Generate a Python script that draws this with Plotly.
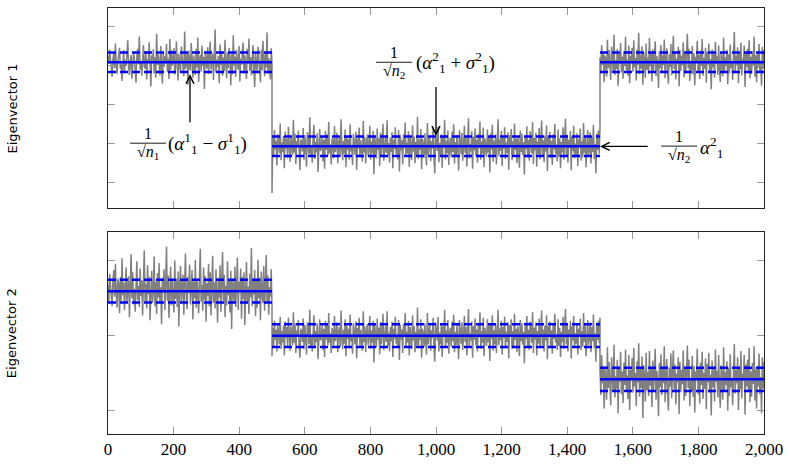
import plotly.graph_objects as go
from plotly.subplots import make_subplots

# ---------------- data ----------------
seg_edges = [0, 500, 1500, 2000]
x_ticks = [0, 200, 400, 600, 800, 1000, 1200, 1400, 1600, 1800, 2000]

# Eigenvector 1 : segment means / std bands (axis units)
ev1_mean = [3.08, 0.92, 3.08]
ev1_sigma = [0.25, 0.25, 0.25]
# Eigenvector 2
ev2_mean = [1.595, 1.0, 0.417]
ev2_sigma = [0.152, 0.152, 0.154]

# size of one unit of the deviation lists below, in axis units
ev1_dev_unit = 0.012
ev2_dev_unit = 0.0105

# noisy entries: deviations from the segment mean
ev1_dev_a = [
    14,-3,27,9,-18,-31,6,22,-12,40,-7,-25,3,18,31,-14,-2,-40,11,26,
    -19,5,-8,33,47,-11,-27,2,16,-35,-6,21,8,-22,-44,12,29,-4,55,-16,
    1,-29,19,37,-9,-13,24,-37,7,-1,43,-20,-52,15,4,28,-24,10,-33,61,
    -5,17,-15,-28,35,6,-46,23,-10,13,-2,39,-21,8,-36,50,-17,26,-7,3,
    30,-26,-12,45,9,-39,18,-4,-23,34,12,-9,-30,66,-14,2,20,-48,25,-6,
    -18,41,7,-33,15,-1,-27,29,-11,53,-42,5,16,-20,36,-8,11,-57,22,3,
    -13,32,-25,9,44,-16,-3,19,-38,27,70,-22,6,-10,14,-45,38,-6,24,-29,
    10,-19,48,-2,-34,21,-12,31,4,-49,17,-26,58,-7,12,-31,26,1,-16,35,
    -41,8,-5,23,42,-24,15,-9,-36,29,-3,51,-18,11,-28,6,37,-14,-53,20,
    2,-21,33,13,-8,-43,27,-17,46,5,-30,19,-11,64,-25,9,-4,-37,30,-1]
ev1_dev_b = [
    -100,18,-23,35,-7,12,-41,26,3,-15,49,-30,8,-12,22,-47,31,-5,16,-26,
    42,-9,-33,20,5,-19,57,-14,27,-38,11,-2,34,-24,-51,15,7,-11,39,-29,
    24,-6,-44,30,13,-17,62,-21,1,-35,18,46,-27,9,-13,28,-55,6,37,-10,
    -3,21,-32,14,-48,33,-8,25,-20,52,-15,4,-39,17,10,-26,43,-12,-1,29,
    -36,8,19,-23,58,-4,-30,12,-16,36,-45,22,-7,15,-28,47,-11,2,-40,27,
    9,-18,31,-50,16,-5,40,-24,13,-9,-33,54,-13,20,-37,6,25,-21,-2,44,
    -29,11,-15,33,-60,23,4,-26,38,-8,17,-42,29,-19,10,48,-31,-3,21,-14,
    56,-22,7,-35,19,-12,30,-47,14,-6,41,-17,2,-28,35,-54,24,-9,13,-39,
    26,-4,51,-23,8,-16,32,-44,18,-1,-30,45,-11,21,-36,9,-20,63,-27,14,
    -8,37,-49,16,3,-25,28,-13,-41,50,-18,6,23,-32,11,-5,39,-22,-58,30,
    15,-10,42,-34,7,-19,26,-46,20,-3,57,-28,12,-15,34,-40,4,18,-24,31,
    -12,47,-37,9,-21,24,-6,-52,35,13,-17,29,-31,-2,44,-14,19,-43,8,60,
    -26,5,-11,32,-48,21,-9,38,-20,14,-35,27,-4,53,-29,10,-16,40,-45,17,
    1,-23,36,-13,22,-56,28,-7,46,-33,12,-18,25,-39,6,58,-21,15,-10,33,
    -42,19,-5,41,-27,8,-14,30,-50,24,-1,37,-30,11,-22,49,-8,16,-36,21,
    3,-46,34,-12,27,-19,9,-61,22,-6,43,-24,14,-31,32,-3,-15,52,-38,18,
    -9,29,-44,10,-17,39,-28,7,55,-20,13,-34,23,-11,45,-53,20,-2,31,-25,
    12,-40,26,-7,48,-16,4,-32,36,-23,17,-47,9,-13,41,-29,2,59,-19,25,
    -35,14,-4,33,-51,21,-10,44,-26,6,-18,28,-42,15,-1,38,-31,11,-24,50,
    -14,23,-45,8,35,-21,-6,30,-37,19,-12,46,-27,5,-58,27,-8,34,-16,40]
ev1_dev_c = [
    11,-24,37,-6,20,-43,15,2,-31,48,-13,26,-9,-38,33,8,-19,59,-27,5,
    -14,29,-50,18,-3,41,-22,12,-35,24,-8,54,-17,6,-29,36,-45,14,-1,31,
    -20,47,-11,9,-39,27,-5,63,-26,16,-13,34,-48,21,3,-33,40,-16,10,-25,
    52,-9,19,-41,28,-18,7,45,-30,13,-2,-55,24,-12,37,-23,15,-6,49,-34,
    4,30,-21,-46,17,-10,39,-28,11,57,-15,22,-37,8,-4,33,-52,26,-19,14,
    -7,43,-32,18,-24,6,61,-13,29,-40,2,-17,35,-26,20,-49,12,-1,46,-22,
    16,-36,25,-8,50,-29,9,-14,31,-44,23,-5,40,-20,7,-58,28,-11,18,-33,
    44,-3,13,-27,36,-16,-42,21,5,-30,53,-19,10,-8,27,-47,17,-24,38,-12,
    1,-38,26,65,-21,14,-6,32,-45,19,-15,42,-28,8,-2,36,-53,22,-10,29,
    -18,47,-34,12,-25,24,-7,55,-31,15,-43,20,-11,39,-22,3,-50,33,-14,26]

ev2_dev_a = [
    8,-15,22,4,-10,-19,13,27,-7,35,-3,-21,16,9,-28,18,-12,42,-5,11,
    -24,6,30,-14,-2,19,-33,12,47,-9,24,-17,3,-26,15,38,-11,7,-20,29,
    -6,14,-31,21,52,-13,9,-22,33,-4,18,-37,10,26,-15,2,44,-19,12,-29,
    23,-8,36,-16,5,-42,17,-1,28,-24,11,57,-12,20,-34,7,31,-18,14,-5,
    -27,39,-10,16,-20,25,-45,9,32,-14,3,21,-30,13,48,-7,-23,18,-2,34,
    -17,6,27,-36,12,-9,40,-21,15,-4,-28,22,54,-13,8,-25,30,-11,19,-39,
    10,-6,35,-19,24,-31,4,45,-15,11,-22,28,-3,-40,17,-8,33,-26,13,50,
    -12,21,-33,7,-18,38,-5,14,-27,26,-48,16,2,-14,31,-20,9,43,-24,12,
    -1,29,-35,18,-10,24,-43,11,37,-16,6,-29,22,-8,55,-19,15,-4,27,-32,
    13,-21,40,-9,17,-37,25,-2,-15,32,-25,8,46,-13,20,-30,5,-7,28,-18]
ev2_dev_b = [
    -26,10,-14,19,-5,8,-20,15,2,-11,24,-17,6,-9,13,-25,18,-3,11,-15,
    23,-7,-19,12,4,-12,30,-9,16,-22,7,-1,20,-14,-28,9,5,-8,22,-17,
    14,-4,-24,17,8,-11,33,-13,1,-20,11,26,-16,6,-8,16,-30,4,21,-6,
    -2,13,-18,9,-27,19,-5,15,-12,29,-9,3,-22,10,6,-15,25,-7,-1,17,
    -21,5,11,-14,32,-3,-17,8,-10,21,-26,13,-4,9,-16,27,-7,2,-23,16,
    6,-11,18,-29,10,-3,23,-14,8,-6,-19,31,-8,12,-21,4,15,-12,-1,25,
    -17,7,-9,19,-34,14,3,-15,22,-5,10,-24,17,-11,6,28,-18,-2,12,-8,
    31,-13,4,-20,11,-7,18,-27,9,-4,24,-10,1,-16,20,-31,14,-5,8,-22,
    15,-2,29,-14,5,-9,19,-25,11,-1,-17,26,-6,12,-21,5,-12,36,-16,8,
    -5,21,-28,9,2,-14,16,-8,-24,29,-11,4,13,-19,7,-3,23,-13,-33,17,
    9,-6,24,-20,4,-11,15,-27,12,-2,33,-16,7,-9,20,-23,3,10,-14,18,
    -7,27,-21,5,-12,14,-4,-30,20,8,-10,17,-18,-1,25,-8,11,-25,5,34,
    -15,3,-6,18,-28,12,-5,22,-12,8,-20,16,-2,30,-17,6,-9,23,-26,10,
    1,-13,21,-8,13,-32,16,-4,26,-19,7,-11,14,-22,4,33,-12,9,-6,19,
    -24,11,-3,24,-16,5,-8,17,-29,14,-1,21,-17,6,-13,28,-5,9,-21,12,
    2,-26,20,-7,16,-11,5,-35,13,-4,25,-14,8,-18,18,-2,-9,30,-22,10,
    -5,17,-25,6,-10,22,-16,4,32,-12,8,-20,13,-6,26,-30,12,-1,18,-15,
    7,-23,15,-4,28,-9,2,-18,21,-13,10,-27,5,-8,24,-17,1,34,-11,14,
    -20,8,-2,19,-29,12,-6,25,-15,3,-10,16,-24,9,-1,22,-18,6,-14,29,
    -8,13,-26,5,20,-12,-3,17,-21,11,-7,27,-16,3,-33,15,-5,19,-9,23]
ev2_dev_c = [
    12,-20,31,-5,17,-37,13,2,-26,41,-11,22,-8,-33,28,7,-16,44,-23,4,
    -12,25,-43,15,-3,35,-19,10,-30,21,-7,38,-14,5,-25,31,-39,12,-1,27,
    -17,40,-9,8,-34,23,-4,46,-22,14,-11,29,-49,18,3,-28,34,-14,9,-21,
    36,-8,16,-35,24,-15,6,39,-26,11,-2,-47,21,-10,32,-20,13,-5,42,-29,
    4,26,-18,-40,15,-9,33,-24,10,37,-13,19,-32,7,-4,28,-44,22,-16,12,
    -6,37,-27,15,-21,5,43,-11,25,-34,2,-15,30,-22,17,-42,10,-1,39,-19,
    14,-31,21,-7,35,-25,8,-12,27,-38,20,-4,34,-17,6,-46,24,-10,16,-28,
    38,-3,11,-23,31,-14,-36,18,4,-26,41,-16,9,-7,23,-40,15,-21,32,-10,
    1,-33,22,45,-18,12,-5,28,-39,16,-13,36,-24,7,-2,31,-45,19,-9,25,
    -15,40,-29,10,-22,21,-6,42,-27,13,-37,17,-9,33,-19,3,-43,28,-12,22]

ev1_devs = [ev1_dev_a, ev1_dev_b, ev1_dev_c]
ev2_devs = [ev2_dev_a, ev2_dev_b, ev2_dev_c]

y_title_1 = "Eigenvector 1"
y_title_2 = "Eigenvector 2"

# ---------------- figure ----------------
W, H = 790, 466
ML, MR, MT, MB = 108, 24, 7, 21

fig = make_subplots(rows=2, cols=1)

GRAY = "#808080"
BLUE = "#0000ff"
SERIF = "Liberation Serif, Times New Roman, DejaVu Serif, serif"


def add_panel(row, means, sigmas, devs, unit):
    xs, ys = [], []
    for k in range(3):
        a, b = seg_edges[k], seg_edges[k + 1]
        d = devs[k]
        n = len(d)
        for i, v in enumerate(d):
            xs.append(a + (b - a) * i / (n - 1))
            ys.append(means[k] + v * unit)
    fig.add_trace(go.Scatter(x=xs, y=ys, mode="lines",
                             line=dict(color=GRAY, width=1.5),
                             hoverinfo="skip", showlegend=False), row=row, col=1)
    for k in range(3):
        a, b = seg_edges[k], seg_edges[k + 1]
        m, s = means[k], sigmas[k]
        for yy, dash in ((m + s, "8px,4px"), (m - s, "8px,4px"), (m, "solid")):
            fig.add_trace(go.Scatter(x=[a, b], y=[yy, yy], mode="lines",
                                     line=dict(color=BLUE, width=2.5, dash=dash),
                                     hoverinfo="skip", showlegend=False),
                          row=row, col=1)


add_panel(1, ev1_mean, ev1_sigma, ev1_devs, ev1_dev_unit)
add_panel(2, ev2_mean, ev2_sigma, ev2_devs, ev2_dev_unit)

axis_common = dict(showline=True, linecolor="#222", linewidth=1, mirror="ticks",
                   ticks="inside", ticklen=7, tickcolor="#999", tickwidth=1,
                   showgrid=False, zeroline=False)

fig.update_xaxes(range=[0, 2000], tickvals=x_ticks, **axis_common)
fig.update_xaxes(showticklabels=False, row=1, col=1)
fig.update_xaxes(tickformat=",d", tickfont=dict(family=SERIF, size=17, color="black"),
                 row=2, col=1)
fig.update_yaxes(showticklabels=False, **axis_common)
fig.update_yaxes(range=[-0.675, 4.475], tickvals=[0, 1, 2, 3, 4], row=1, col=1)
fig.update_yaxes(range=[-0.313, 2.39], tickvals=[0, 1, 2], row=2, col=1)

plot_h = H - MT - MB
top_dom = [1 - (213 - MT) / plot_h, 1.0]
bot_dom = [0.0, 1 - (237 - MT) / plot_h]
fig.update_layout(yaxis=dict(domain=top_dom), yaxis2=dict(domain=bot_dom),
                  xaxis=dict(domain=[0, 1]), xaxis2=dict(domain=[0, 1]))

annos = []
shapes = []
plot_w = W - ML - MR
# y titles
for txt, dom in ((y_title_1, top_dom), (y_title_2, bot_dom)):
    annos.append(dict(xref="paper", yref="paper", x=(12 - ML) / plot_w, y=(dom[0] + dom[1]) / 2,
                      text=txt, textangle=-90, showarrow=False, xanchor="center", yanchor="middle",
                      font=dict(family="DejaVu Sans", size=13, color="black")))

MATH = dict(family=SERIF, size=19, color="black")
SMALL = dict(family=SERIF, size=16, color="black")


def frac(x, y, num, den, halfw=18):
    annos.append(dict(xref="x", yref="y", x=x, y=y, text=num, showarrow=False,
                      xanchor="center", yanchor="bottom", yshift=-1, font=SMALL))
    annos.append(dict(xref="x", yref="y", x=x, y=y, text=den, showarrow=False,
                      xanchor="center", yanchor="top", yshift=2, font=SMALL))
    shapes.append(dict(type="line", xref="x", yref="y", xsizemode="pixel", ysizemode="pixel",
                       xanchor=x, yanchor=y, x0=-halfw, x1=halfw, y0=0, y1=0,
                       line=dict(color="black", width=0.9)))


def expr(x, y, text):
    annos.append(dict(xref="x", yref="y", x=x, y=y, text=text, showarrow=False,
                      xanchor="left", yanchor="middle", font=MATH))


def arrow(x, y, ax, ay):
    annos.append(dict(xref="x", yref="y", axref="x", ayref="y", x=x, y=y, ax=ax, ay=ay,
                      text="", showarrow=True, arrowhead=5, arrowsize=1.2, arrowwidth=1.3,
                      arrowcolor="black", standoff=0, startstandoff=0))


# annotation 1
frac(122, 1.0, "1", "√<i>n</i><sub>1</sub>")
expr(176, 0.98, "(<i>α</i><sup>1</sup><sub>1</sub> − <i>σ</i><sup>1</sup><sub>1</sub>)")
arrow(250, 2.775, 250, 1.5)
# annotation 2
frac(872, 3.08, "1", "√<i>n</i><sub>2</sub>")
expr(932, 3.07, "(<i>α</i><sup>2</sup><sub>1</sub> + <i>σ</i><sup>2</sup><sub>1</sub>)")
arrow(1000, 1.19, 1000, 2.48)
# annotation 3
frac(1741, 0.925, "1", "√<i>n</i><sub>2</sub>")
expr(1800, 0.9, "<i>α</i><sup>2</sup><sub>1</sub>")
arrow(1500, 0.9175, 1650, 0.9175)

fig.update_layout(annotations=annos, shapes=shapes)

fig.update_layout(width=W, height=H, margin=dict(l=ML, r=MR, t=MT, b=MB),
                  paper_bgcolor="white", plot_bgcolor="white", showlegend=False,
                  hovermode=False)

fig.write_html("out.html")
